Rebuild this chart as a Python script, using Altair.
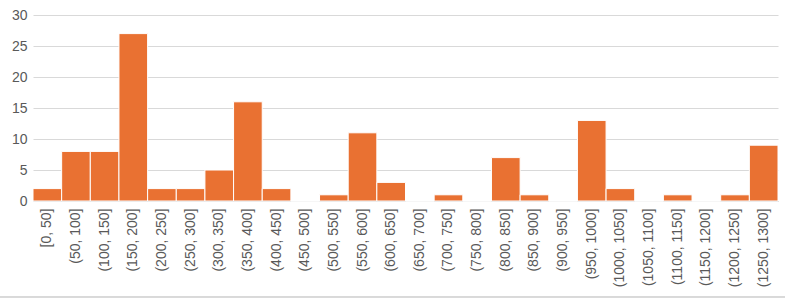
import altair as alt
import pandas as pd

bins = ["[0, 50]", "(50, 100]", "(100, 150]", "(150, 200]", "(200, 250]", "(250, 300]",
        "(300, 350]", "(350, 400]", "(400, 450]", "(450, 500]", "(500, 550]", "(550, 600]",
        "(600, 650]", "(650, 700]", "(700, 750]", "(750, 800]", "(800, 850]", "(850, 900]",
        "(900, 950]", "(950, 1000]", "(1000, 1050]", "(1050, 1100]", "(1100, 1150]",
        "(1150, 1200]", "(1200, 1250]", "(1250, 1300]"]
counts = [2, 8, 8, 27, 2, 2, 5, 16, 2, 0, 1, 11, 3, 0, 1, 0, 7, 1, 0, 13, 2, 0, 1, 0, 1, 9]
y_ticks = [0, 5, 10, 15, 20, 25, 30]

df = pd.DataFrame({"bin": bins, "count": counts})

font = "Liberation Sans"

bars = alt.Chart(df).mark_bar(color="#E97132", stroke="white", strokeWidth=1).encode(
    x=alt.X("bin:N", sort=bins, title=None,
            scale=alt.Scale(paddingInner=0, paddingOuter=0),
            axis=alt.Axis(labelAngle=270, labelAlign="right", labelBaseline="middle",
                          labelPadding=7, ticks=False, domainColor="#d9d9d9",
                          labelColor="#595959", labelFont=font, labelFontSize=14)),
    y=alt.Y("count:Q", title=None,
            scale=alt.Scale(domain=[0, 30], nice=False),
            axis=alt.Axis(values=y_ticks, domain=False, ticks=False, labelPadding=6,
                          gridColor="#d9d9d9", labelColor="#595959", labelFont=font,
                          labelFontSize=14)),
)

frame_line = alt.Chart(df).mark_rule(color="#d9d9d9", strokeWidth=1, clip=False).encode(
    x=alt.value(-33), x2=alt.value(752), y=alt.value(282)
)

chart = alt.layer(bars, frame_line).properties(
    width=745, height=186,
    autosize=alt.AutoSizeParams(type="none"),
    padding={"left": 33, "top": 15, "right": 7, "bottom": 99},
).configure_view(stroke=None).configure_axisX(grid=False)

chart.save("out.html", embed_options={"renderer": "svg", "actions": False})
